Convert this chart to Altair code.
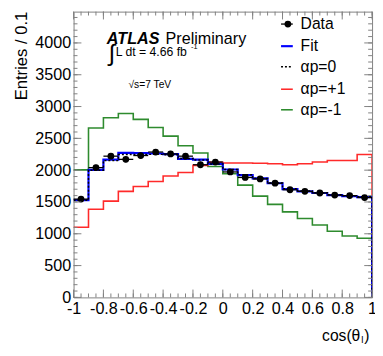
import altair as alt
import pandas as pd

# ---- data ----
bin_low = [-1.0, -0.9, -0.8, -0.7, -0.6, -0.5, -0.4, -0.3, -0.2, -0.1,
           0.0, 0.1, 0.2, 0.3, 0.4, 0.5, 0.6, 0.7, 0.8, 0.9]
bin_center = [-0.95, -0.85, -0.75, -0.65, -0.55, -0.45, -0.35, -0.25, -0.15, -0.05,
              0.05, 0.15, 0.25, 0.35, 0.45, 0.55, 0.65, 0.75, 0.85, 0.95]
data_vals = [1545, 2040, 2220, 2170, 2230, 2285, 2255, 2220, 2085, 2128,
             1972, 1885, 1862, 1795, 1692, 1667, 1641, 1608, 1600, 1570]
data_err = [39, 45, 47, 47, 47, 48, 47, 47, 46, 46,
            44, 43, 43, 42, 41, 41, 41, 40, 40, 40]
fit_vals = [1530, 2005, 2165, 2272, 2268, 2262, 2252, 2178, 2165, 2100,
            2010, 1923, 1870, 1795, 1703, 1667, 1641, 1607, 1590, 1576]
ap0_vals = [1528, 2000, 2150, 2245, 2248, 2248, 2242, 2182, 2160, 2098,
            2012, 1928, 1868, 1798, 1708, 1672, 1646, 1612, 1596, 1582]
app_vals = [1103, 1385, 1513, 1667, 1744, 1821, 1908, 1962, 2075, 2125,
            2112, 2112, 2110, 2100, 2085, 2100, 2128, 2152, 2152, 2246]
apm_vals = [2005, 2662, 2823, 2890, 2798, 2672, 2535, 2385, 2270, 2058,
            1945, 1765, 1592, 1462, 1344, 1241, 1138, 1040, 964, 930]

y_major = [0, 500, 1000, 1500, 2000, 2500, 3000, 3500, 4000]
y_minor = list(range(0, 4500, 100))
x_major = [-1, -0.8, -0.6, -0.4, -0.2, 0, 0.2, 0.4, 0.6, 0.8, 1]
x_minor = [round(-1 + 0.05 * i, 2) for i in range(41)]

# ---- tables ----
rows = []
for name, vals in [("fit", fit_vals), ("ap0", ap0_vals), ("app", app_vals), ("apm", apm_vals)]:
    for i, (x, v) in enumerate(zip(bin_low, vals)):
        rows.append({"s": name, "x": x, "y": v, "i": i})
    rows.append({"s": name, "x": 1.0, "y": vals[-1], "i": 20})
    rows.append({"s": name, "x": 1.0, "y": 0, "i": 21})
steps = pd.DataFrame(rows)
pts = pd.DataFrame({"c": bin_center, "v": data_vals, "e": data_err})
dummy = pd.DataFrame({"d": [0]})

W, H = 305, 292
FONT = "Liberation Sans"
FRAME = "#808080"
xs = alt.Scale(domain=[-1, 1], nice=False, zero=False)
ys = alt.Scale(domain=[0, 4492], nice=False, zero=False)

x_axis = alt.Axis(values=x_major, labelExpr="'' + datum.value", ticks=False, tickSize=0,
                  domain=False, grid=False, labelFontSize=16.5, labelPadding=3,
                  labelOverlap=False, labelFlush=False, title=None, labelFont=FONT,
                  labelColor="black")
y_axis = alt.Axis(values=y_major, format="d", ticks=False, tickSize=0,
                  domain=False, grid=False, labelFontSize=16.5, labelPadding=3,
                  labelOverlap=False, title=None, labelFont=FONT, labelColor="black")


def X(field):
    return alt.X(field, scale=xs, axis=x_axis)


def Y(field):
    return alt.Y(field, scale=ys, axis=y_axis)


def step_layer(name, color, width, dash=None):
    kw = dict(interpolate="step-after", color=color, strokeWidth=width, clip=True)
    if dash:
        kw["strokeDash"] = dash
    return alt.Chart(steps).transform_filter(alt.datum.s == name).mark_line(**kw).encode(
        x=X("x:Q"), y=Y("y:Q"), order="i:Q")


green = step_layer("apm", "#2e8b2e", 1.6)
red = step_layer("app", "#ff2a2a", 1.6)
blue = step_layer("fit", "#0000ff", 2.2)
black = step_layer("ap0", "black", 1.5, dash=[2, 2])

herr = alt.Chart(pts).transform_calculate(lo="datum.c - 0.05", hi="datum.c + 0.05").mark_rule(
    color="black", strokeWidth=1.3).encode(x=X("lo:Q"), x2="hi:Q", y=Y("v:Q"))
verr = alt.Chart(pts).transform_calculate(lo="datum.v - datum.e", hi="datum.v + datum.e").mark_rule(
    color="black", strokeWidth=1.3).encode(x=X("c:Q"), y=Y("lo:Q"), y2="hi:Q")
dots = alt.Chart(pts).mark_circle(color="black", size=48, opacity=1).encode(
    x=X("c:Q"), y=Y("v:Q"))


# ---- frame ticks (ROOT style, inward) ----
def yticks(vals, size):
    df = pd.DataFrame({"v": vals})
    left = alt.Chart(df).mark_rule(color=FRAME, strokeWidth=1).encode(
        y=Y("v:Q"), x=alt.value(0), x2=alt.value(size))
    right = alt.Chart(df).mark_rule(color=FRAME, strokeWidth=1).encode(
        y=Y("v:Q"), x=alt.value(W), x2=alt.value(W - size))
    return [left, right]


def xticks(vals, size):
    df = pd.DataFrame({"v": vals})
    bot = alt.Chart(df).mark_rule(color=FRAME, strokeWidth=1).encode(
        x=X("v:Q"), y=alt.value(H), y2=alt.value(H - size))
    top = alt.Chart(df).mark_rule(color=FRAME, strokeWidth=1).encode(
        x=X("v:Q"), y=alt.value(0), y2=alt.value(size))
    return [bot, top]


tick_layers = yticks(y_minor, 4) + yticks(y_major, 8) + xticks(x_minor, 4) + xticks(x_major, 8)


def txt(text, x, y, size, align="left", baseline="middle", **kw):
    return alt.Chart(dummy).mark_text(text=text, align=align, baseline=baseline,
                                      fontSize=size, font=FONT, color="black", **kw).encode(
        x=alt.value(x), y=alt.value(y))


def seg(x1, x2, y, color, width, dash=None):
    kw = dict(color=color, strokeWidth=width)
    if dash:
        kw["strokeDash"] = dash
    return alt.Chart(dummy).mark_rule(**kw).encode(
        x=alt.value(x1), x2=alt.value(x2), y=alt.value(y))


annot = [
    txt("Entries / 0.1", -53, 0, 17, align="right", angle=270),
    txt("cos(θ", 293, 332, 16, align="right"),
    txt("l", 294, 336, 10),
    txt(")", 297, 332, 16),
    txt("ATLAS", 34, 33.5, 16.5, baseline="alphabetic", fontStyle="italic", fontWeight="bold"),
    txt("Preliminary", 94, 33.5, 16.5, baseline="alphabetic"),
    txt("∫", 36, 43, 24),
    txt("L dt = 4.66 fb", 43, 41, 12.5),
    txt("-1", 120, 36, 7.5),
    txt("√s=7 TeV", 56, 75, 10.5),
]

leg_y = [12.7, 35.3, 56.3, 79.3, 100.3]
legend = [
    seg(212, 224, leg_y[0], "black", 1.3),
    alt.Chart(dummy).mark_circle(color="black", size=48, opacity=1).encode(
        x=alt.value(219), y=alt.value(leg_y[0])),
    txt("Data", 232, leg_y[0], 16),
    seg(212, 224, leg_y[1], "#0000ff", 2.2),
    txt("Fit", 232, leg_y[1], 16),
    seg(212, 224, leg_y[2], "black", 1.5, dash=[2, 2]),
    txt("αp=0", 232, leg_y[2], 16),
    seg(212, 224, leg_y[3], "#ff2a2a", 1.6),
    txt("αp=+1", 232, leg_y[3], 16),
    seg(212, 224, leg_y[4], "#2e8b2e", 1.6),
    txt("αp=-1", 232, leg_y[4], 16),
]

chart = alt.layer(
    green, red, blue, black, herr, verr, dots, *tick_layers, *annot, *legend
).properties(
    width=W, height=H,
    autosize=alt.AutoSizeParams(type="none"),
    padding={"left": 67, "top": 0, "right": 3, "bottom": 48},
    background="white",
).configure_view(stroke=FRAME, strokeWidth=1)

chart.save("out.html", embed_options={"renderer": "svg", "actions": False})
